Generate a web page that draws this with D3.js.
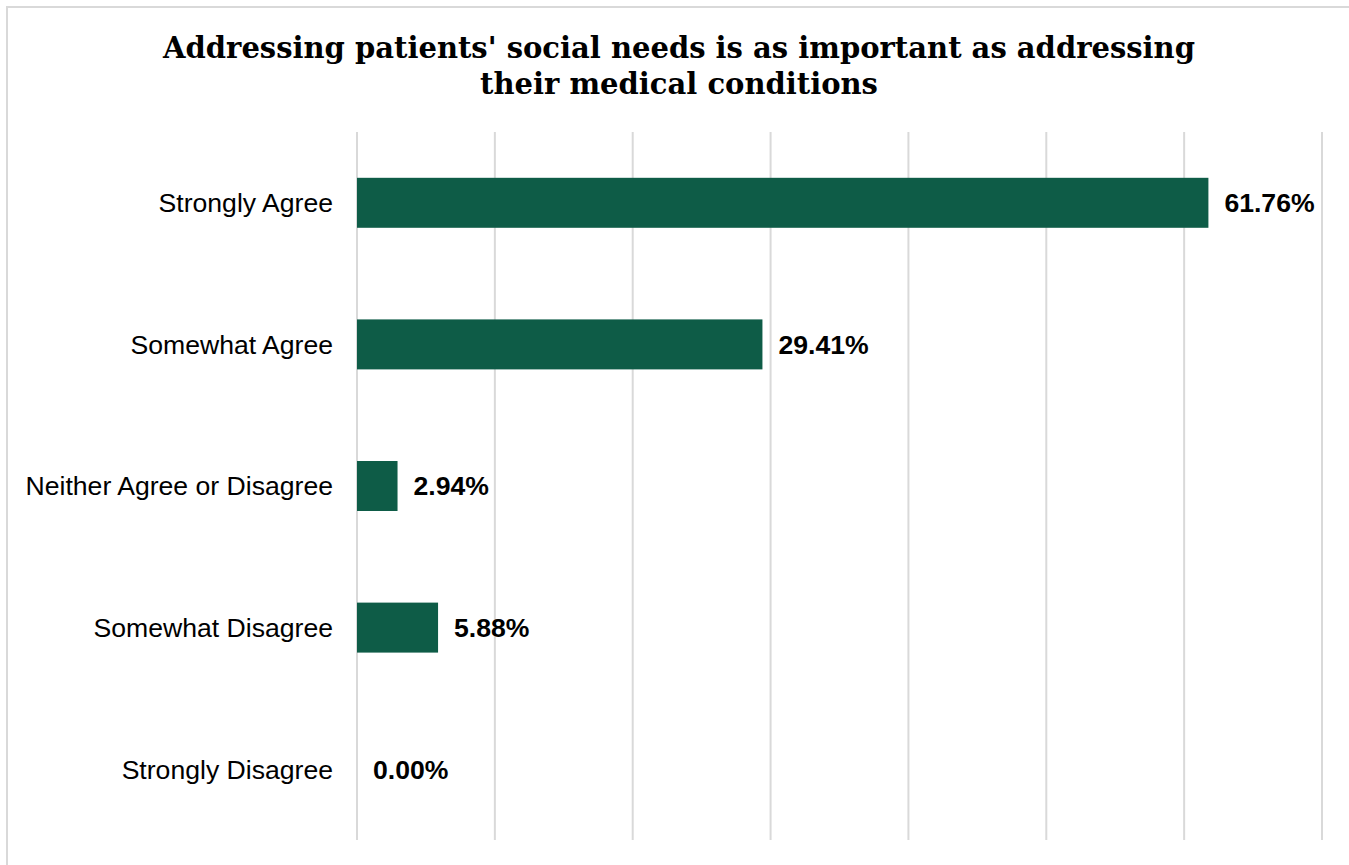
<!DOCTYPE html>
<html>
<head>
<meta charset="utf-8">
<script src="https://cdn.jsdelivr.net/npm/d3@7"></script>
<style>
  html, body { margin: 0; padding: 0; background: #fff; }
  svg { display: block; }
</style>
</head>
<body>
<div id="chart"></div>
<script>
// Survey responses, top to bottom
const categories = ['Strongly Agree', 'Somewhat Agree', 'Neither Agree or Disagree', 'Somewhat Disagree', 'Strongly Disagree'];
const values = [61.76, 29.41, 2.94, 5.88, 0.00];
const gridTicks = [0, 10, 20, 30, 40, 50, 60, 70];
const titleLines = ["Addressing patients' social needs is as important as addressing", 'their medical conditions'];

const W = 1349, H = 865;
const margin = { top: 132, right: 27, bottom: 25, left: 357 };

const svg = d3.select('#chart').append('svg')
  .attr('width', W).attr('height', H);

// chart border (runs off right / bottom edge)
svg.append('rect')
  .attr('x', 7).attr('y', 7)
  .attr('width', W + 20).attr('height', H + 20)
  .attr('fill', '#fff')
  .attr('stroke', '#d9d9d9').attr('stroke-width', 2);

// title
const title = svg.append('text')
  .attr('x', 679).attr('text-anchor', 'middle')
  .attr('font-family', "Georgia, 'DejaVu Serif', serif")
  .attr('font-weight', 'bold').attr('font-size', 29)
  .attr('fill', '#000');
titleLines.forEach((t, i) => {
  title.append('tspan').attr('x', 679).attr('y', 58 + i * 36).text(t);
});

const g = svg.append('g').attr('transform', `translate(${margin.left},${margin.top})`);

const x = d3.scaleLinear().domain([0, 70]).range([0, 965]);
const y = d3.scaleBand().domain(categories).range([0, 708]).paddingInner(0.647).paddingOuter(0.3235);

// vertical gridlines
gridTicks.forEach(v => {
  g.append('line')
    .attr('x1', x(v)).attr('x2', x(v))
    .attr('y1', 0).attr('y2', 708)
    .attr('stroke', '#d9d9d9').attr('stroke-width', 2);
});

// bars
g.selectAll('rect.bar').data(values).enter().append('rect')
  .attr('class', 'bar')
  .attr('x', x(0))
  .attr('y', (d, i) => y(categories[i]))
  .attr('width', d => x(d) - x(0))
  .attr('height', y.bandwidth())
  .attr('fill', '#0e5c47');

// category labels
g.selectAll('text.cat').data(categories).enter().append('text')
  .attr('class', 'cat')
  .attr('x', -24)
  .attr('y', d => y(d) + y.bandwidth() / 2)
  .attr('dy', '0.35em')
  .attr('text-anchor', 'end')
  .attr('font-family', "Arial, 'Liberation Sans', sans-serif")
  .attr('font-size', 26.6)
  .attr('fill', '#000')
  .text(d => d);

// value labels
g.selectAll('text.val').data(values).enter().append('text')
  .attr('class', 'val')
  .attr('x', d => x(d) + 16)
  .attr('y', (d, i) => y(categories[i]) + y.bandwidth() / 2)
  .attr('dy', '0.35em')
  .attr('font-family', "Arial, 'Liberation Sans', sans-serif")
  .attr('font-weight', 'bold')
  .attr('font-size', 26.6)
  .attr('fill', '#000')
  .text(d => d.toFixed(2) + '%');
</script>
</body>
</html>
